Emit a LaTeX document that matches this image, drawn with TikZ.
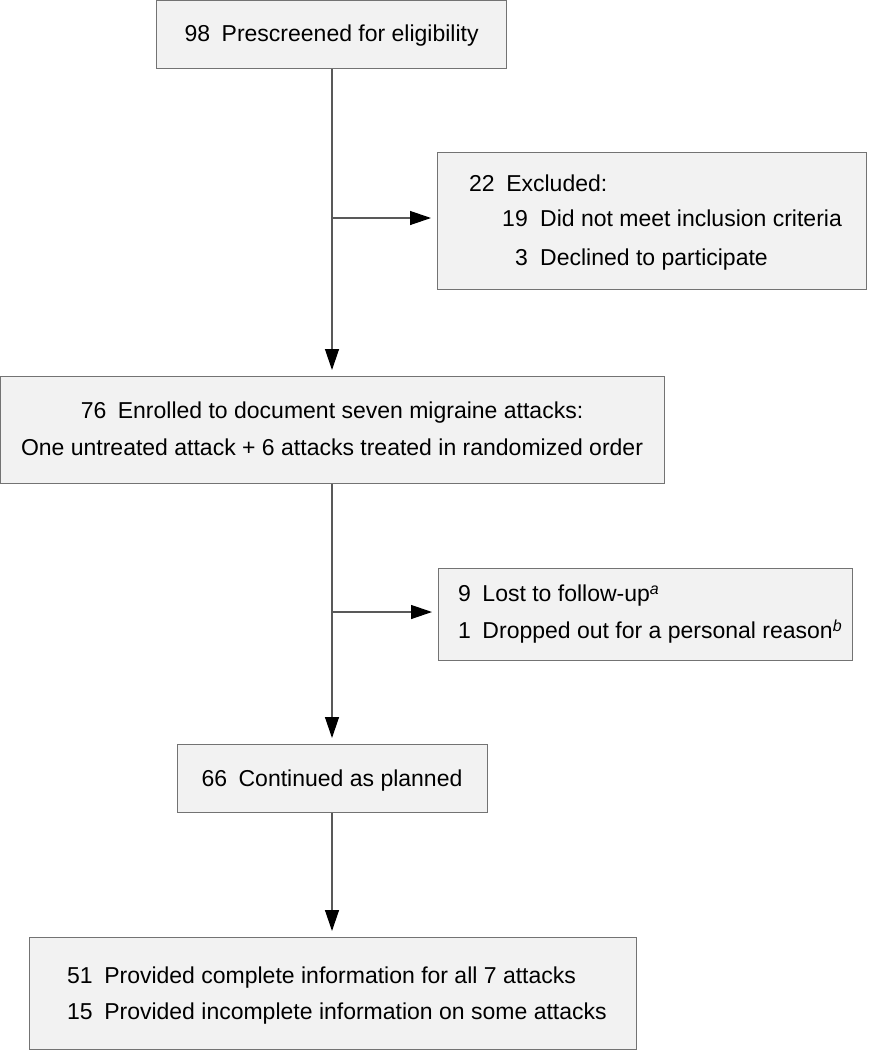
\documentclass[tikz,border=0pt]{standalone}
\usepackage{fontspec}
\setmainfont{Liberation Sans}
\usetikzlibrary{arrows.meta}
\newcommand{\supit}[1]{\raisebox{0.3em}{\fontsize{16}{16}\selectfont\itshape #1}}
\begin{document}
\begin{tikzpicture}[x=1pt,y=-1pt,
  box/.style={draw=black!55, fill=black!5, line width=1.3pt, inner sep=0pt, anchor=north west},
  txt/.style={inner sep=0pt, font=\fontsize{23}{27}\selectfont},
  conn/.style={draw=black!65, line width=1.3pt},
  arr/.style={conn, -{Triangle[length=21pt,width=14pt,color=black,fill=black]}, shorten >=6pt}]
\useasboundingbox (0,0) rectangle (868,1050);
% boxes
\node[box, minimum width=350pt, minimum height=68pt] (b1) at (156,0) {};
\node[box, minimum width=429pt, minimum height=137pt] (b2) at (437,152) {};
\node[box, minimum width=664pt, minimum height=107pt] (b3) at (0,376) {};
\node[box, minimum width=414pt, minimum height=92pt] (b4) at (438,568) {};
\node[box, minimum width=310pt, minimum height=68pt] (b5) at (177,744) {};
\node[box, minimum width=607pt, minimum height=112pt] (b6) at (29,937) {};
% texts
\node[txt, anchor=base] (t1) at (b1.center |- 0,41) {98\enspace Prescreened for eligibility};
\node[txt, anchor=base west] (t2a) at (469,191) {22\enspace Excluded:};
\node[txt, anchor=base east] (t2b) at (528,226) {19};
\node[txt, anchor=base west] (t2c) at (540,226) {Did not meet inclusion criteria};
\node[txt, anchor=base east] (t2d) at (528,265) {3};
\node[txt, anchor=base west] (t2e) at (540,265) {Declined to participate};
\node[txt, anchor=base] (t3a) at (332,418) {76\enspace Enrolled to document seven migraine attacks:};
\node[txt, anchor=base] (t3b) at (332,455) {One untreated attack + 6 attacks treated in randomized order};
\node[txt, anchor=base west] (t4a) at (458,601) {9\enspace Lost to follow-up\supit{a}};
\node[txt, anchor=base west] (t4b) at (458,638) {1\enspace Dropped out for a personal reason\supit{b}};
\node[txt, anchor=base] (t5) at (332,786) {66\enspace Continued as planned};
\node[txt, anchor=base west] (t6a) at (67,983) {51\enspace Provided complete information for all 7 attacks};
\node[txt, anchor=base west] (t6b) at (67,1019) {15\enspace Provided incomplete information on some attacks};
% connectors
\coordinate (s) at (332,0);
\coordinate (j1) at (332,218);
\coordinate (j2) at (332,612);
\draw[arr] (b1.south -| s) -- (b3.north -| s);
\draw[arr] (j1) -- (j1 -| b2.west);
\draw[arr] (b3.south -| s) -- (b5.north -| s);
\draw[arr] (j2) -- (j2 -| b4.west);
\draw[arr] (b5.south -| s) -- (b6.north -| s);
\end{tikzpicture}
\end{document}
